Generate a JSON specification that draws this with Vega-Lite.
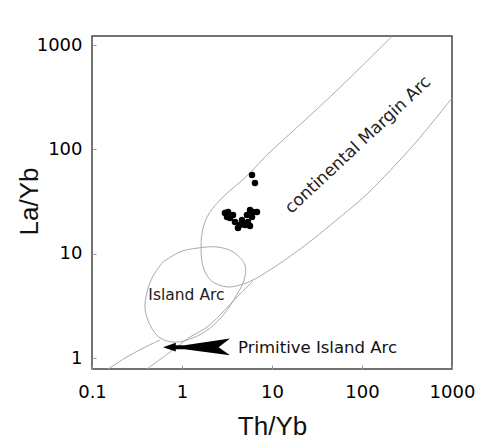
{
  "$schema": "https://vega.github.io/schema/vega-lite/v6.json",
  "autosize": {"type": "none"},
  "padding": {"left": 92, "top": 36, "right": 34, "bottom": 72},
  "width": 360,
  "height": 333,
  "background": "white",
  "config": {
    "view": {"stroke": "#444", "strokeWidth": 1.5},
    "axis": {
      "grid": false,
      "domain": false,
      "ticks": true,
      "tickSize": -4,
      "tickColor": "#999",
      "labelFont": "DejaVu Sans",
      "labelFontSize": 18,
      "labelColor": "#000",
      "titleFont": "Liberation Sans",
      "titleFontSize": 26,
      "titleFontWeight": "normal",
      "titleColor": "#111"
    }
  },
  "datasets": {
    "curves": [
      {"curve": "cma", "i": 1, "x": 222, "y": 1240},
      {"curve": "cma", "i": 2, "x": 95.0, "y": 603},
      {"curve": "cma", "i": 3, "x": 44.1, "y": 318},
      {"curve": "cma", "i": 4, "x": 23.3, "y": 191},
      {"curve": "cma", "i": 5, "x": 13.3, "y": 123},
      {"curve": "cma", "i": 6, "x": 8.36, "y": 84.6},
      {"curve": "cma", "i": 7, "x": 5.27, "y": 55.6},
      {"curve": "cma", "i": 8, "x": 2.64, "y": 32.7},
      {"curve": "cma", "i": 9, "x": 1.90, "y": 22.5},
      {"curve": "cma", "i": 10, "x": 1.67, "y": 15.8},
      {"curve": "cma", "i": 11, "x": 1.63, "y": 10.8},
      {"curve": "cma", "i": 12, "x": 1.67, "y": 8.33},
      {"curve": "cma", "i": 13, "x": 1.85, "y": 6.39},
      {"curve": "cma", "i": 14, "x": 2.21, "y": 5.35},
      {"curve": "cma", "i": 15, "x": 3.16, "y": 4.80},
      {"curve": "cma", "i": 16, "x": 4.41, "y": 5.01},
      {"curve": "cma", "i": 17, "x": 6.15, "y": 5.60},
      {"curve": "cma", "i": 18, "x": 9.50, "y": 6.98},
      {"curve": "cma", "i": 19, "x": 22.1, "y": 11.6},
      {"curve": "cma", "i": 20, "x": 47.6, "y": 19.7},
      {"curve": "cma", "i": 21, "x": 114, "y": 37.4},
      {"curve": "cma", "i": 22, "x": 264, "y": 79.1},
      {"curve": "cma", "i": 23, "x": 408, "y": 120},
      {"curve": "cma", "i": 24, "x": 1026, "y": 318},
      {"curve": "ia", "i": 1, "x": 0.615, "y": 8.33},
      {"curve": "ia", "i": 2, "x": 0.95, "y": 10.4},
      {"curve": "ia", "i": 3, "x": 1.47, "y": 11.3},
      {"curve": "ia", "i": 4, "x": 2.45, "y": 11.6},
      {"curve": "ia", "i": 5, "x": 3.69, "y": 10.4},
      {"curve": "ia", "i": 6, "x": 5.01, "y": 7.79},
      {"curve": "ia", "i": 7, "x": 4.89, "y": 5.60},
      {"curve": "ia", "i": 8, "x": 3.98, "y": 3.93},
      {"curve": "ia", "i": 9, "x": 2.93, "y": 2.64},
      {"curve": "ia", "i": 10, "x": 2.05, "y": 1.94},
      {"curve": "ia", "i": 11, "x": 1.33, "y": 1.56},
      {"curve": "ia", "i": 12, "x": 0.836, "y": 1.42},
      {"curve": "ia", "i": 13, "x": 0.570, "y": 1.56},
      {"curve": "ia", "i": 14, "x": 0.441, "y": 2.07},
      {"curve": "ia", "i": 15, "x": 0.388, "y": 3.02},
      {"curve": "ia", "i": 16, "x": 0.409, "y": 4.29},
      {"curve": "ia", "i": 17, "x": 0.476, "y": 6.11},
      {"curve": "ia", "i": 18, "x": 0.615, "y": 8.33},
      {"curve": "l1", "i": 1, "x": 0.14, "y": 0.75},
      {"curve": "l1", "i": 2, "x": 0.233, "y": 1.0},
      {"curve": "l1", "i": 3, "x": 0.388, "y": 1.27},
      {"curve": "l1", "i": 4, "x": 0.570, "y": 1.49},
      {"curve": "l2", "i": 1, "x": 0.38, "y": 0.75},
      {"curve": "l2", "i": 2, "x": 0.736, "y": 1.14},
      {"curve": "l2", "i": 3, "x": 1.23, "y": 1.59},
      {"curve": "l2", "i": 4, "x": 1.90, "y": 1.98},
      {"curve": "l2", "i": 5, "x": 3.0, "y": 2.89},
      {"curve": "l2", "i": 6, "x": 4.19, "y": 3.93},
      {"curve": "l2", "i": 7, "x": 6.15, "y": 5.47}
    ],
    "samples": [
      {"x": 6.0, "y": 56.9}, {"x": 6.47, "y": 47.6},
      {"x": 3.0, "y": 24.6}, {"x": 3.41, "y": 22.0}, {"x": 3.88, "y": 20.1},
      {"x": 4.19, "y": 17.6}, {"x": 4.64, "y": 21.0}, {"x": 5.27, "y": 23.5},
      {"x": 5.70, "y": 26.2}, {"x": 6.15, "y": 25.1}, {"x": 6.81, "y": 25.1},
      {"x": 5.41, "y": 20.1}, {"x": 5.01, "y": 18.8}, {"x": 3.16, "y": 22.5},
      {"x": 3.69, "y": 23.5}, {"x": 6.0, "y": 22.5}, {"x": 4.41, "y": 18.8},
      {"x": 3.25, "y": 25.1}, {"x": 5.70, "y": 18.4}
    ],
    "labels": [
      {"label": "Island Arc", "x": 1.12, "y": 4.02, "kind": "ia"},
      {"label": "Primitive Island Arc", "x": 4.19, "y": 1.247, "kind": "pia"},
      {"label": "continental Margin Arc", "x": 90.3, "y": 110, "kind": "cma"}
    ],
    "arrow": [
      {"x": 1.45, "y": 1.27}
    ]
  },
  "encoding": {
    "x": {
      "field": "x", "type": "quantitative",
      "scale": {"type": "log", "domain": [0.1, 1000], "nice": false},
      "axis": {"values": [0.1, 1, 10, 100, 1000], "format": "~g", "labelPadding": 18, "labelFlush": false, "title": "Th/Yb", "titleY": 44}
    },
    "y": {
      "field": "y", "type": "quantitative",
      "scale": {"type": "log", "domain": [0.785, 1220], "nice": false},
      "axis": {"values": [1, 10, 100, 1000], "format": "~g", "labelPadding": 14, "labelFlush": false, "title": "La/Yb", "titleX": -50, "titleY": 165}
    }
  },
  "layer": [
    {
      "data": {"name": "curves"},
      "mark": {"type": "line", "interpolate": "catmull-rom", "stroke": "#ababab", "strokeWidth": 1, "clip": true},
      "encoding": {
        "detail": {"field": "curve", "type": "nominal"},
        "order": {"field": "i", "type": "quantitative"}
      }
    },
    {
      "data": {"name": "samples"},
      "mark": {"type": "point", "filled": true, "color": "black", "size": 42, "opacity": 1}
    },
    {
      "data": {"name": "arrow"},
      "mark": {
        "type": "point", "filled": true, "color": "black", "opacity": 1, "size": 4489,
        "shape": "M-1,0 L-0.62,-0.13 L-0.62,-0.06 L-0.36,-0.06 L1,-0.26 L0.66,0 L1,0.24 L-0.36,0.06 L-0.62,0.06 L-0.62,0.13 Z"
      }
    },
    {
      "data": {"name": "labels"},
      "transform": [{"filter": "datum.kind === 'ia'"}],
      "mark": {"type": "text", "font": "DejaVu Sans", "fontSize": 15.5, "color": "#222", "align": "center", "baseline": "middle"},
      "encoding": {"text": {"field": "label"}}
    },
    {
      "data": {"name": "labels"},
      "transform": [{"filter": "datum.kind === 'pia'"}],
      "mark": {"type": "text", "font": "DejaVu Sans", "fontSize": 16.5, "color": "#111", "align": "left", "baseline": "middle"},
      "encoding": {"text": {"field": "label"}}
    },
    {
      "data": {"name": "labels"},
      "transform": [{"filter": "datum.kind === 'cma'"}],
      "mark": {"type": "text", "font": "DejaVu Sans", "fontSize": 17, "color": "#222", "align": "center", "baseline": "middle", "angle": -43},
      "encoding": {"text": {"field": "label"}}
    }
  ]
}
